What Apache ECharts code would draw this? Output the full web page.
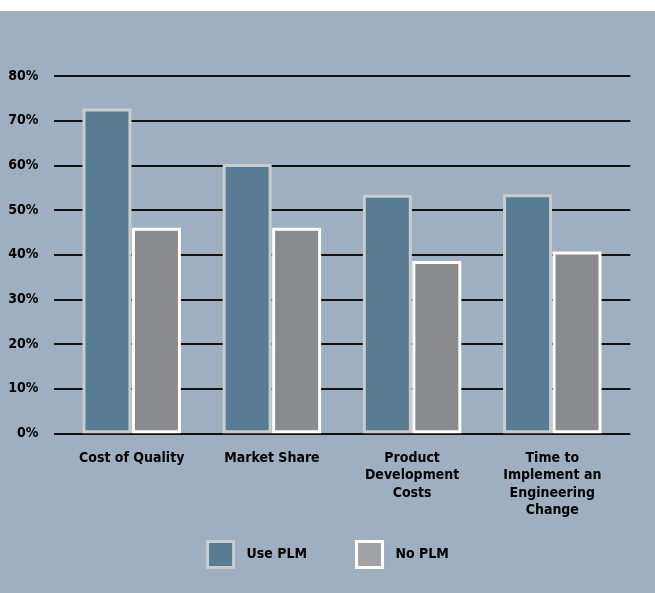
<!DOCTYPE html>
<html>
<head>
<meta charset="utf-8">
<script src="https://cdn.jsdelivr.net/npm/echarts@6/dist/echarts.min.js"></script>
<style>
html,body{margin:0;padding:0;background:#ffffff;width:655px;height:593px;overflow:hidden;}
#chart{position:absolute;left:0;top:11px;width:655px;height:582px;}
</style>
</head>
<body>
<div id="chart"></div>
<script>
const categories = ["Cost of Quality", "Market Share", "Product\nDevelopment\nCosts", "Time to\nImplement an\nEngineering\nChange"];
const useplm = [72.7, 60.3, 53.4, 53.5];
const noplm = [46, 46, 38.6, 40.7];
const yTicks = [0, 10, 20, 30, 40, 50, 60, 70, 80];

const FONT = "'DejaVu Sans Condensed', 'DejaVu Sans', sans-serif";
const chart = echarts.init(document.getElementById('chart'));
const option = {
  backgroundColor: '#9dafc0',
  animation: false,
  textStyle: { fontFamily: FONT },
  legend: {
    left: 'center',
    top: 524,
    icon: 'rect',
    itemWidth: 26,
    itemHeight: 26,
    itemGap: 48,
    textStyle: { fontFamily: FONT, fontWeight: 'bold', fontSize: 14, color: '#000', padding: [0, 0, 0, 8] },
    data: [
      { name: 'Use PLM', itemStyle: { color: '#5a7c92', borderColor: '#c9cccf', borderWidth: 3 } },
      { name: 'No PLM', itemStyle: { color: '#a1a2a5', borderColor: '#ffffff', borderWidth: 3 } }
    ]
  },
  grid: [
    { left: 54, right: 24.7, top: 65, bottom: 159.7 },
    { left: 61.6, right: 32.6, top: 65, bottom: 159.7 }
  ],
  xAxis: [
    { gridIndex: 0, type: 'category', data: categories, show: false },
    {
      gridIndex: 1, type: 'category', data: categories,
      axisLine: { show: false }, axisTick: { show: false },
      axisLabel: { interval: 0, margin: 16, fontFamily: FONT, fontWeight: 'bold', fontSize: 14, color: '#000', lineHeight: 17.5 }
    }
  ],
  yAxis: [
    {
      gridIndex: 0, type: 'value', min: yTicks[0], max: yTicks[yTicks.length - 1], interval: 10,
      axisLine: { show: false }, axisTick: { show: false },
      axisLabel: { margin: 15.7, formatter: '{value}%', fontFamily: FONT, fontWeight: 'bold', fontSize: 14, color: '#000' },
      splitLine: { show: true, lineStyle: { color: '#111', width: 2 } }
    },
    {
      gridIndex: 1, type: 'value', min: yTicks[0], max: yTicks[yTicks.length - 1], interval: 10,
      show: false, splitLine: { show: false }
    }
  ],
  series: [
    {
      name: 'Use PLM', type: 'bar', xAxisIndex: 1, yAxisIndex: 1, data: useplm,
      barWidth: 49, barGap: '1%',
      itemStyle: { color: '#5a7c92', borderColor: '#c9cccf', borderWidth: 3 }
    },
    {
      name: 'No PLM', type: 'bar', xAxisIndex: 1, yAxisIndex: 1, data: noplm,
      barWidth: 49, barGap: '1%',
      itemStyle: { color: '#898b8e', borderColor: '#ffffff', borderWidth: 3 }
    }
  ]
};
chart.setOption(option);
</script>
</body>
</html>
